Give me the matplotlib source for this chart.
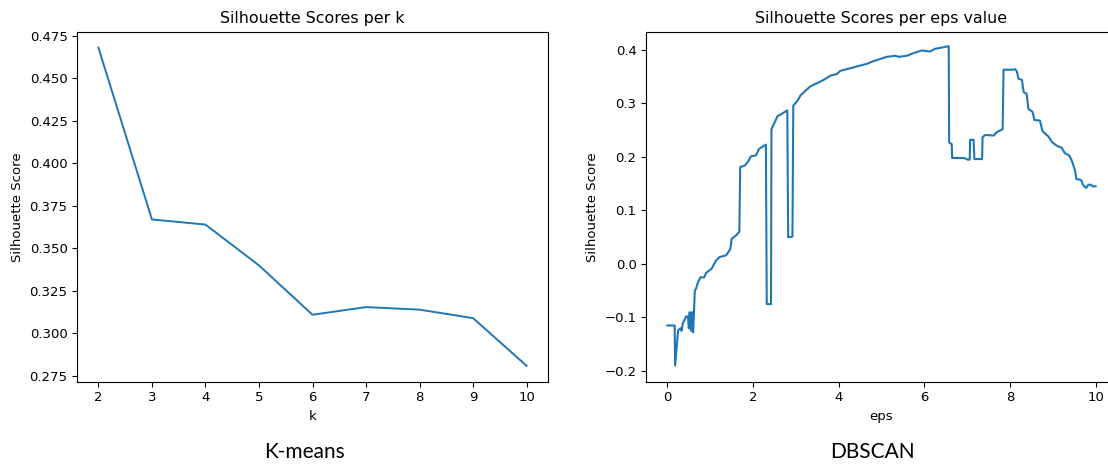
import matplotlib.pyplot as plt

# K-means: silhouette score per number of clusters
k_values = [2, 3, 4, 5, 6, 7, 8, 9, 10]
kmeans_scores = [0.468, 0.367, 0.364, 0.340, 0.311, 0.3155, 0.314, 0.309, 0.281]

# DBSCAN: silhouette score per eps value
eps_values = [0.00, 0.17, 0.18, 0.25, 0.31, 0.33, 0.36, 0.44, 0.48, 0.50, 0.52,
              0.55, 0.58, 0.60, 0.62, 0.64, 0.67, 0.71, 0.77, 0.86, 0.90,
              1.03, 1.14, 1.22, 1.37, 1.47, 1.50, 1.60, 1.68, 1.70, 1.81,
              1.89, 1.95, 2.07, 2.14, 2.30, 2.32, 2.42, 2.43, 2.49, 2.57,
              2.68, 2.80, 2.82, 2.92, 2.94, 3.04, 3.11, 3.23, 3.34, 3.50,
              3.65, 3.81, 3.96, 4.04, 4.19, 4.42, 4.66, 4.81, 4.97, 5.12,
              5.32, 5.40, 5.59, 5.75, 5.94, 6.13, 6.25, 6.45, 6.57, 6.58,
              6.64, 6.65, 6.93, 7.01, 7.06, 7.07, 7.15, 7.17, 7.35, 7.36,
              7.42, 7.62, 7.69, 7.83, 7.85, 8.08, 8.12, 8.16, 8.20, 8.28,
              8.32, 8.39, 8.43, 8.53, 8.57, 8.70, 8.76, 8.90, 8.98, 9.09,
              9.21, 9.28, 9.38, 9.44, 9.52, 9.55, 9.66, 9.71, 9.78, 9.83,
              9.89, 9.93, 10.00]
eps_scores = [-0.115, -0.115, -0.190, -0.124, -0.120, -0.125, -0.111, -0.098,
              -0.098, -0.120, -0.090, -0.125, -0.090, -0.128, -0.092, -0.050,
              -0.046, -0.035, -0.025, -0.025, -0.017, -0.009, 0.007, 0.013,
              0.016, 0.028, 0.047, 0.053, 0.060, 0.181, 0.184, 0.192, 0.201,
              0.203, 0.215, 0.223, -0.075, -0.075, 0.252, 0.262, 0.276,
              0.281, 0.287, 0.050, 0.051, 0.296, 0.305, 0.315, 0.324, 0.332,
              0.338, 0.344, 0.352, 0.355, 0.361, 0.364, 0.369, 0.374, 0.379,
              0.383, 0.387, 0.389, 0.387, 0.389, 0.394, 0.399, 0.397, 0.402,
              0.405, 0.407, 0.227, 0.224, 0.198, 0.198, 0.195, 0.195, 0.232,
              0.232, 0.196, 0.196, 0.237, 0.241, 0.240, 0.246, 0.252, 0.363,
              0.363, 0.364, 0.360, 0.346, 0.344, 0.321, 0.318, 0.290, 0.284,
              0.269, 0.268, 0.248, 0.238, 0.228, 0.221, 0.217, 0.207, 0.203,
              0.194, 0.175, 0.159, 0.157, 0.147, 0.142, 0.148, 0.148, 0.145,
              0.145]

fig = plt.figure(figsize=(11.08, 4.66), dpi=100)
ax1 = fig.add_axes([77 / 1108, 84.3 / 466, 471 / 1108, 350 / 466])
ax2 = fig.add_axes([646 / 1108, 84.3 / 466, 471 / 1108, 350 / 466])

line_color = '#1f77b4'

ax1.plot(k_values, kmeans_scores, color=line_color, lw=1.4)
ax1.set_title('Silhouette Scores per k', fontsize=11.4)
ax1.set_xlabel('k', fontsize=9.5)
ax1.set_ylabel('Silhouette Score', fontsize=9.5)
ax1.set_yticks([0.275, 0.300, 0.325, 0.350, 0.375, 0.400, 0.425, 0.450, 0.475])

ax2.plot(eps_values, eps_scores, color=line_color, lw=1.5)
ax2.set_title('Silhouette Scores per eps value', fontsize=11.4)
ax2.set_xlabel('eps', fontsize=9.5)
ax2.set_ylabel('Silhouette Score', fontsize=9.5)
ax2.set_xlim(-0.5, 10.5)
ax2.set_ylim(-0.22, 0.434)
# the screenshot cuts the right chart off before its right edge
ax2.spines['right'].set_visible(False)

for ax in (ax1, ax2):
    ax.tick_params(labelsize=9.5, length=3.3)

# captions under each chart
fig.text(304 / 1108, 1 - 458 / 466, 'K-means', family='Lato', fontsize=15,
         ha='center', va='baseline')
fig.text(872 / 1108, 1 - 458 / 466, 'DBSCAN', family='Lato', fontsize=15,
         ha='center', va='baseline')

fig.savefig('out.png', dpi=100)
